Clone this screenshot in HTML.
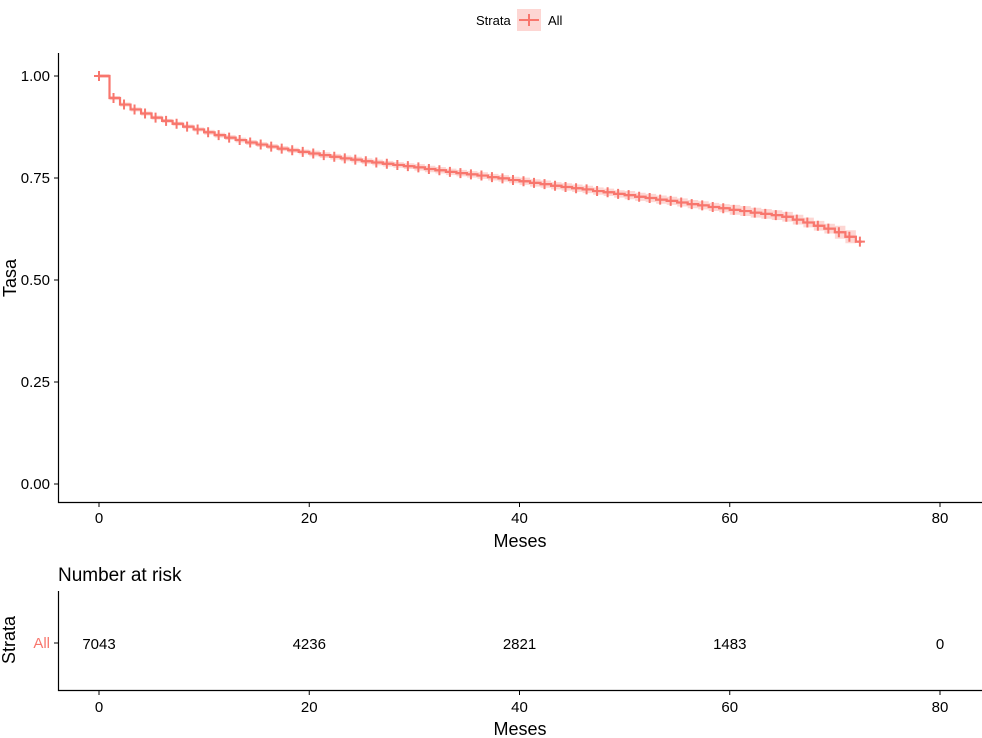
<!DOCTYPE html>
<html><head><meta charset="utf-8"><style>
body{margin:0;background:#fff;}
svg{display:block;font-family:"Liberation Sans",Arial,sans-serif;}
</style></head><body>
<svg id="chart" width="982" height="738" viewBox="0 0 982 738" xmlns="http://www.w3.org/2000/svg">
<g>
<text x="476" y="25" font-size="13">Strata</text>
<rect x="517" y="9" width="24" height="22" fill="#f8766d" fill-opacity="0.3"/>
<line x1="519" y1="20" x2="539" y2="20" stroke="#f8766d" stroke-width="2"/>
<line x1="529" y1="14" x2="529" y2="26" stroke="#f8766d" stroke-width="2"/>
<text x="548" y="25" font-size="13">All</text>
</g>
<g id="plot"></g>
<g id="risk"></g>
</svg>
<script>
const months=[0,1,2,3,4,5,6,7,8,9,10,11,12,13,14,15,16,17,18,19,20,21,22,23,24,25,26,27,28,29,30,31,32,33,34,35,36,37,38,39,40,41,42,43,44,45,46,47,48,49,50,51,52,53,54,55,56,57,58,59,60,61,62,63,64,65,66,67,68,69,70,71,72];
const survival=[1.000,0.946,0.930,0.918,0.908,0.898,0.890,0.883,0.876,0.869,0.862,0.855,0.849,0.843,0.837,0.832,0.827,0.822,0.818,0.814,0.810,0.806,0.802,0.798,0.795,0.791,0.788,0.785,0.782,0.779,0.776,0.772,0.769,0.765,0.762,0.759,0.756,0.752,0.749,0.745,0.742,0.738,0.735,0.731,0.728,0.725,0.722,0.718,0.715,0.711,0.708,0.704,0.701,0.697,0.694,0.690,0.686,0.683,0.679,0.676,0.672,0.669,0.665,0.662,0.659,0.655,0.648,0.641,0.633,0.626,0.617,0.606,0.594];
const ciHalf=[0.005,0.006,0.007,0.008,0.009,0.010,0.012,0.016];
const xTicks=[0,20,40,60,80];
const yTicks=[0,0.25,0.5,0.75,1.0];
const yTickLabels=["0.00","0.25","0.50","0.75","1.00"];
const riskTimes=[0,20,40,60,80];
const riskCounts=["7043","4236","2821","1483","0"];
const NS="http://www.w3.org/2000/svg";
const x=t=>99+t*(940-99)/80;
const y=v=>484-v*408;
function mk(parent,tag,attrs){const e=document.createElementNS(NS,tag);for(const k in attrs)e.setAttribute(k,attrs[k]);parent.appendChild(e);return e;}
const plot=document.getElementById('plot');
const risk=document.getElementById('risk');
// CI band
let up="",lo="";
for(let i=0;i<months.length;i++){
  const h=ciHalf[Math.min(ciHalf.length-1,Math.floor(months[i]/10))];
  const x0=x(months[i]),x1=x(i<months.length-1?months[i+1]:months[i]);
  up+=(i?"L":"M")+x0+","+y(survival[i]+h)+"L"+x1+","+y(survival[i]+h);
  lo="L"+x1+","+y(survival[i]-h)+"L"+x0+","+y(survival[i]-h)+lo;
}
const band=mk(plot,'path',{d:up+lo+"Z",fill:"#f8766d","fill-opacity":"0.3"});


let d="";
for(let i=0;i<months.length;i++){
  d+=(i?"L"+x(months[i])+","+y(survival[i-1])+"L":"M")+x(months[i])+","+y(survival[i]);
}
d+="L"+(x(72)+6)+","+y(survival[survival.length-1]);
const line=mk(plot,'path',{d:d,fill:"none",stroke:"#f8766d","stroke-width":"2.2"});


for(let i=0;i<months.length;i++){
  const cx=x(months[i])+(i?4:0),cy=y(survival[i]);
  const c=mk(plot,'path',{d:`M${cx-5},${cy}h10M${cx},${cy-5}v10`,stroke:"#f8766d","stroke-width":"2"});
  
  
}
// axes
const ax=mk(plot,'path',{d:"M58.5,53V502.5H982",fill:"none",stroke:"#000","stroke-width":"1.2"});


yTicks.forEach((v,i)=>{
  const t=mk(plot,'line',{x1:54,x2:58.5,y1:y(v),y2:y(v),stroke:"#000"});
  
  
  const l=mk(plot,'text',{x:50,y:y(v)+5,"text-anchor":"end","font-size":"15"});l.textContent=yTickLabels[i];
  
  
});
xTicks.forEach(v=>{
  const t=mk(plot,'line',{x1:x(v),x2:x(v),y1:502.5,y2:507,stroke:"#000"});
  
  
  const l=mk(plot,'text',{x:x(v),y:523,"text-anchor":"middle","font-size":"15"});l.textContent=v;
  
  
});
const xt=mk(plot,'text',{x:520,y:547,"text-anchor":"middle","font-size":"18"});xt.textContent="Meses";


const yt=mk(plot,'text',{x:0,y:0,"text-anchor":"middle","font-size":"18",transform:"translate(16,278) rotate(-90)"});yt.textContent="Tasa";


// risk table
const rt=mk(risk,'text',{x:58,y:581,"font-size":"19"});rt.textContent="Number at risk";


const rax=mk(risk,'path',{d:"M58.5,591V690.5H982",fill:"none",stroke:"#000","stroke-width":"1.2"});


const rtk=mk(risk,'line',{x1:54,x2:58.5,y1:643,y2:643,stroke:"#000"});


const ra=mk(risk,'text',{x:50,y:648,"text-anchor":"end","font-size":"15",fill:"#f8766d"});ra.textContent="All";


const rs=mk(risk,'text',{x:0,y:0,"text-anchor":"middle","font-size":"18",transform:"translate(15,640) rotate(-90)"});rs.textContent="Strata";


riskTimes.forEach((v,i)=>{
  const l=mk(risk,'text',{x:x(v),y:649,"text-anchor":"middle","font-size":"15"});l.textContent=riskCounts[i];
  
  
});
xTicks.forEach(v=>{
  const t=mk(risk,'line',{x1:x(v),x2:x(v),y1:690.5,y2:695,stroke:"#000"});
  
  
  const l=mk(risk,'text',{x:x(v),y:712,"text-anchor":"middle","font-size":"15"});l.textContent=v;
  
  
});
const rx=mk(risk,'text',{x:520,y:735,"text-anchor":"middle","font-size":"18"});rx.textContent="Meses";


</script>
</body></html>
